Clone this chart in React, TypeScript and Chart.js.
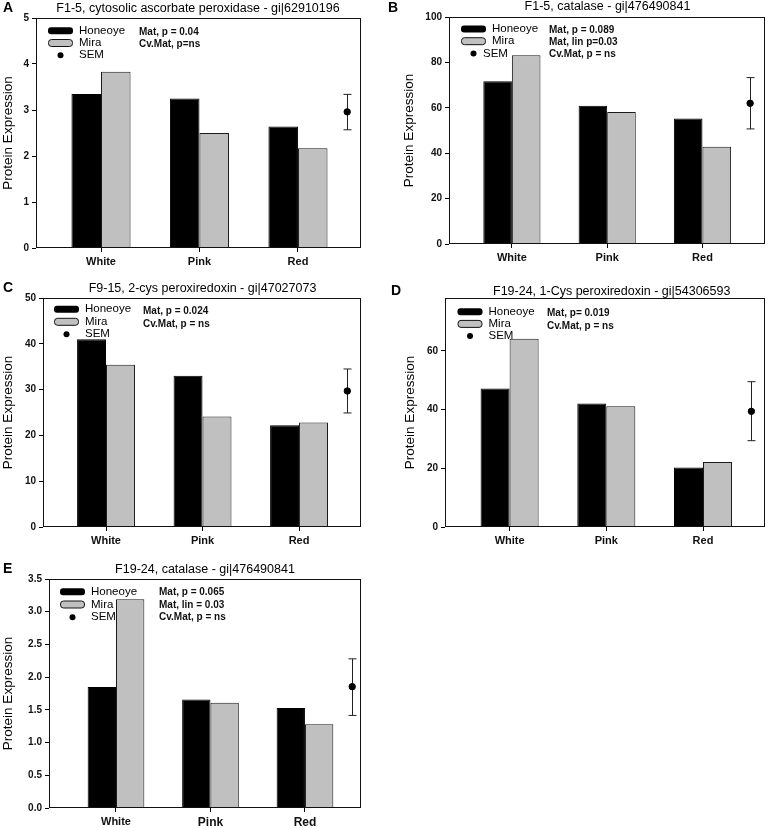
import { useEffect, useRef } from 'react';
import { Chart, registerables } from 'chart.js';
Chart.register(...registerables);

const FONT = "'Liberation Sans', Arial, Helvetica, sans-serif";

// ---------- data ----------
const categories = ['White', 'Pink', 'Red'];
const legendLabels = ['Honeoye', 'Mira', 'SEM'];
const semPosition = 2.5;

// Panel A
const titleA = 'F1-5, cytosolic ascorbate peroxidase - gi|62910196';
const honeoyeA = [3.35, 3.25, 2.64];
const miraA = [3.83, 2.5, 2.17];
const semA = [2.96, 2.57, 3.34]; // mean, low, high
const statsA = ['Mat, p = 0.04', 'Cv.Mat, p=ns'];

// Panel B
const titleB = 'F1-5, catalase - gi|476490841';
const honeoyeB = [71.7, 60.9, 55.3];
const miraB = [83.1, 58.2, 42.8];
const semB = [62.0, 50.7, 73.3];
const statsB = ['Mat, p = 0.089', 'Mat, lin p=0.03', 'Cv.Mat, p = ns'];

// Panel C
const titleC = 'F9-15, 2-cys peroxiredoxin - gi|47027073';
const honeoyeC = [41.0, 33.0, 22.2];
const miraC = [35.4, 24.1, 22.8];
const semC = [29.7, 24.9, 34.5];
const statsC = ['Mat, p = 0.024', 'Cv.Mat, p = ns'];

// Panel D
const titleD = 'F19-24, 1-Cys peroxiredoxin - gi|54306593';
const honeoyeD = [47.2, 42.1, 20.3];
const miraD = [64.1, 41.1, 22.1];
const semD = [39.4, 29.4, 49.5];
const statsD = ['Mat, p= 0.019', 'Cv.Mat, p = ns'];

// Panel E
const titleE = 'F19-24, catalase - gi|476490841';
const honeoyeE = [1.85, 1.66, 1.53];
const miraE = [3.19, 1.61, 1.28];
const semE = [1.855, 1.415, 2.28];
const statsE = ['Mat, p = 0.065', 'Mat, lin = 0.03', 'Cv.Mat, p = ns'];

// y axes: [max, step, decimals]
const yAxisA = [5, 1, 0];
const yAxisB = [100, 20, 0];
const yAxisC = [50, 10, 0];
const yAxisD = [78, 20, 0];
const yAxisE = [3.5, 0.5, 1];

// ---------- layout ----------
type Spec = {
  letter: string;
  title: string;
  honeoye: number[];
  mira: number[];
  sem: number[];
  stats: string[];
  yAxis: number[];
  box: { left: number; top: number; width: number; height: number };
  plot: { l: number; r: number; t: number; b: number };
  xMin: number;
  xMax: number;
  titlePos: [number, number];
  yTitleX: number;
  letterPos: [number, number];
  legend: { dx: number; dy: number; gap: number; semShift: number };
  statsPos: { dx: number; dy: number; gap: number };
  xFontSizes: number[];
};

const panels: Spec[] = [
  {
    letter: 'A', title: titleA, honeoye: honeoyeA, mira: miraA, sem: semA, stats: statsA, yAxis: yAxisA,
    box: { left: 0, top: 0, width: 385, height: 280 },
    plot: { l: 36, r: 361, t: 18, b: 248 }, xMin: -0.66, xMax: 2.64,
    titlePos: [198, 8.5], yTitleX: 8, letterPos: [3, 8],
    legend: { dx: 12, dy: 12.7, gap: 12.3, semShift: 0 },
    statsPos: { dx: 103, dy: 14, gap: 12.7 },
    xFontSizes: [11, 11, 11],
  },
  {
    letter: 'B', title: titleB, honeoye: honeoyeB, mira: miraB, sem: semB, stats: statsB, yAxis: yAxisB,
    box: { left: 385, top: 0, width: 385, height: 280 },
    plot: { l: 64, r: 382, t: 17, b: 244 }, xMin: -0.66, xMax: 2.656,
    titlePos: [222.5, 7], yTitleX: 24, letterPos: [3, 8],
    legend: { dx: 12, dy: 12, gap: 12.2, semShift: -9 },
    statsPos: { dx: 100, dy: 13, gap: 12.2 },
    xFontSizes: [11, 11, 11],
  },
  {
    letter: 'C', title: titleC, honeoye: honeoyeC, mira: miraC, sem: semC, stats: statsC, yAxis: yAxisC,
    box: { left: 0, top: 280, width: 385, height: 280 },
    plot: { l: 43, r: 361, t: 18, b: 247 }, xMin: -0.653, xMax: 2.642,
    titlePos: [202.5, 8.5], yTitleX: 8, letterPos: [3, 8],
    legend: { dx: 11, dy: 11.3, gap: 12.5, semShift: 0 },
    statsPos: { dx: 100, dy: 13.7, gap: 12.6 },
    xFontSizes: [11, 11, 11],
  },
  {
    letter: 'D', title: titleD, honeoye: honeoyeD, mira: miraD, sem: semD, stats: statsD, yAxis: yAxisD,
    box: { left: 385, top: 280, width: 385, height: 280 },
    plot: { l: 60, r: 382, t: 18, b: 247 }, xMin: -0.668, xMax: 2.641,
    titlePos: [226.7, 11.7], yTitleX: 25, letterPos: [6, 11],
    legend: { dx: 12.5, dy: 13.7, gap: 12.2, semShift: 0 },
    statsPos: { dx: 102, dy: 15, gap: 13 },
    xFontSizes: [11, 11, 11],
  },
  {
    letter: 'E', title: titleE, honeoye: honeoyeE, mira: miraE, sem: semE, stats: statsE, yAxis: yAxisE,
    box: { left: 0, top: 560, width: 385, height: 268 },
    plot: { l: 49, r: 361, t: 19, b: 248 }, xMin: -0.709, xMax: 2.593,
    titlePos: [205, 10], yTitleX: 8.5, letterPos: [3, 9],
    legend: { dx: 11, dy: 12.7, gap: 12.8, semShift: 0 },
    statsPos: { dx: 110, dy: 13.7, gap: 12.3 },
    xFontSizes: [11, 12, 12],
  },
];

function Panel({ spec }: { spec: Spec }) {
  const ref = useRef<HTMLCanvasElement>(null);
  useEffect(() => {
    const s = spec;
    const canvas = ref.current as HTMLCanvasElement;
    const W = s.box.width;
    const H = s.box.height;
    const [yMax, yStep, yDec] = s.yAxis;

    const decor = {
      id: 'decor' + s.letter,
      beforeDatasetsDraw(chart: any) {
        const { ctx, scales } = chart;
        const x = Math.round(scales.x.getPixelForValue(semPosition)) + 0.5;
        const yLo = scales.y.getPixelForValue(s.sem[1]);
        const yHi = scales.y.getPixelForValue(s.sem[2]);
        ctx.save();
        ctx.strokeStyle = '#222';
        ctx.lineWidth = 1;
        ctx.beginPath();
        ctx.moveTo(x, yHi);
        ctx.lineTo(x, yLo);
        ctx.moveTo(x - 4, yHi);
        ctx.lineTo(x + 4, yHi);
        ctx.moveTo(x - 4, yLo);
        ctx.lineTo(x + 4, yLo);
        ctx.stroke();
        ctx.restore();
      },
      afterDraw(chart: any) {
        const { ctx, chartArea: a } = chart;
        ctx.save();
        // frame
        ctx.strokeStyle = '#111';
        ctx.lineWidth = 1;
        const fl = Math.round(a.left) + 0.5;
        const ft = Math.round(a.top) + 0.5;
        const fr = Math.round(a.right) - 0.5;
        const fb = Math.round(a.bottom) - 0.5;
        ctx.strokeRect(fl, ft, fr - fl, fb - ft);

        // panel letter
        ctx.fillStyle = '#000';
        ctx.textBaseline = 'middle';
        ctx.textAlign = 'left';
        ctx.font = `bold 14px ${FONT}`;
        ctx.fillText(s.letter, s.letterPos[0], s.letterPos[1]);

        // title
        ctx.textAlign = 'center';
        ctx.font = `12.5px ${FONT}`;
        ctx.fillText(s.title, s.titlePos[0], s.titlePos[1]);

        // y title
        ctx.save();
        ctx.translate(s.yTitleX, (a.top + a.bottom) / 2);
        ctx.rotate(-Math.PI / 2);
        ctx.font = `13.5px ${FONT}`;
        ctx.textAlign = 'center';
        ctx.fillText('Protein Expression', 0, 0);
        ctx.restore();

        // legend
        const lx = a.left + s.legend.dx;
        const ly = a.top + s.legend.dy;
        const g = s.legend.gap;
        ctx.textAlign = 'left';
        ctx.font = `11.5px ${FONT}`;
        ctx.fillStyle = '#000';
        ctx.beginPath();
        (ctx as any).roundRect(lx, ly - 3.5, 25, 7, 3);
        ctx.fill();
        ctx.fillText(legendLabels[0], lx + 31, ly);
        ctx.beginPath();
        (ctx as any).roundRect(lx + 0.5, ly + g - 3.5, 24, 7, 3);
        ctx.fillStyle = '#c0c0c0';
        ctx.fill();
        ctx.strokeStyle = '#111';
        ctx.stroke();
        ctx.fillStyle = '#000';
        ctx.fillText(legendLabels[1], lx + 31, ly + g);
        ctx.beginPath();
        ctx.arc(lx + 12.5, ly + 2 * g, 3, 0, Math.PI * 2);
        ctx.fill();
        ctx.fillText(legendLabels[2], lx + 31 + s.legend.semShift, ly + 2 * g);

        // stats
        ctx.font = `bold 10px ${FONT}`;
        ctx.fillStyle = '#111';
        s.stats.forEach((t, i) => {
          ctx.fillText(t, a.left + s.statsPos.dx, a.top + s.statsPos.dy + i * s.statsPos.gap);
        });
        ctx.restore();
      },
    };

    const chart = new Chart(canvas, {
      type: 'bar',
      data: {
        datasets: [
          {
            label: legendLabels[0],
            data: s.honeoye.map((v, i) => ({ x: i, y: v })),
            backgroundColor: '#000',
            borderColor: '#000',
            borderWidth: 1,
            categoryPercentage: 0.6,
            barPercentage: 1,
            order: 2,
          } as any,
          {
            label: legendLabels[1],
            data: s.mira.map((v, i) => ({ x: i, y: v })),
            backgroundColor: '#c0c0c0',
            borderColor: '#1a1a1a',
            borderWidth: 1,
            categoryPercentage: 0.6,
            barPercentage: 1,
            order: 2,
          } as any,
          {
            type: 'scatter',
            label: legendLabels[2],
            data: [{ x: semPosition, y: s.sem[0] }],
            backgroundColor: '#000',
            borderColor: '#000',
            pointRadius: 3.2,
            order: 0,
          } as any,
        ],
      },
      options: {
        animation: false,
        responsive: false,
        maintainAspectRatio: false,
        devicePixelRatio: 1,
        layout: { padding: { left: 0, top: s.plot.t, right: W - s.plot.r, bottom: 0 } },
        plugins: {
          legend: { display: false },
          tooltip: { enabled: false },
          title: { display: false },
        },
        scales: {
          x: {
            type: 'linear',
            min: s.xMin,
            max: s.xMax,
            offset: false,
            afterBuildTicks: (sc: any) => {
              sc.ticks = categories.map((_, i) => ({ value: i }));
            },
            afterFit: (sc: any) => {
              sc.height = H - s.plot.b;
            },
            ticks: {
              autoSkip: false,
              maxRotation: 0,
              minRotation: 0,
              padding: 3,
              color: '#111',
              callback: (v: any) => categories[Math.round(Number(v))] ?? '',
              font: (c: any) => ({ family: FONT, weight: 'bold', size: s.xFontSizes[c.index] ?? 11 }),
            },
            grid: { display: true, offset: false, drawOnChartArea: false, drawTicks: true, tickLength: 4, color: '#000' },
            border: { display: false },
          } as any,
          y: {
            type: 'linear',
            min: 0,
            max: yMax,
            afterFit: (sc: any) => {
              sc.width = s.plot.l;
            },
            ticks: {
              stepSize: yStep,
              includeBounds: false,
              padding: 3,
              color: '#111',
              font: { family: FONT, weight: 'bold', size: 10 },
              callback: (v: any) => Number(v).toFixed(yDec),
            },
            grid: { display: true, drawOnChartArea: false, drawTicks: true, tickLength: 4, color: '#000' },
            border: { display: false },
          } as any,
        },
      } as any,
      plugins: [decor],
    });
    return () => chart.destroy();
  }, [spec]);

  return (
    <canvas
      ref={ref}
      width={spec.box.width}
      height={spec.box.height}
      style={{
        position: 'absolute',
        left: spec.box.left,
        top: spec.box.top,
        width: spec.box.width,
        height: spec.box.height,
      }}
    />
  );
}

export default function App() {
  return (
    <div
      style={{
        position: 'absolute',
        left: 0,
        top: 0,
        width: 770,
        height: 828,
        background: '#fff',
        overflow: 'hidden',
      }}
    >
      {panels.map((p) => (
        <Panel key={p.letter} spec={p} />
      ))}
    </div>
  );
}
